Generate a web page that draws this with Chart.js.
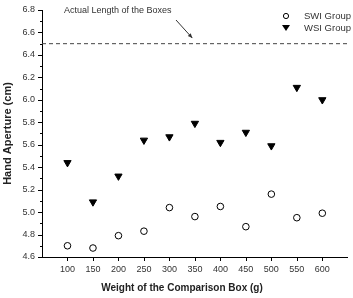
<!DOCTYPE html>
<html>
<head>
<meta charset="utf-8">
<script src="https://cdn.jsdelivr.net/npm/chart.js@4/dist/chart.umd.min.js"></script>
<style>
  html, body { margin: 0; padding: 0; background: #fff; }
  #wrap { width: 353px; height: 298px; }
</style>
</head>
<body>
<div id="wrap"><canvas id="c" width="353" height="298"></canvas></div>
<script>
// Data
const weights = [100, 150, 200, 250, 300, 350, 400, 450, 500, 550, 600];
const swiGroup = [4.70, 4.68, 4.79, 4.83, 5.04, 4.96, 5.05, 4.87, 5.16, 4.95, 4.99];
const wsiGroup = [5.44, 5.09, 5.32, 5.64, 5.67, 5.79, 5.62, 5.71, 5.59, 6.11, 6.00];
const actualLength = 6.5;
const xRange = [50, 650];
const yRange = [4.6, 6.8];

const FONT = "'Liberation Sans', Arial, Helvetica, sans-serif";

// minor/major ticks, x title, reference annotation and legend
const extras = {
  id: 'extras',
  afterDraw(chart) {
    const ctx = chart.ctx;
    const xs = chart.scales.x, ys = chart.scales.y;
    const area = chart.chartArea;
    ctx.save();
    ctx.strokeStyle = '#000';
    ctx.lineWidth = 1;
    ctx.beginPath();
    ys.ticks.forEach(t => {
      const y = Math.round(ys.getPixelForValue(t.value)) + 0.5;
      const major = Math.round(t.value * 10) % 2 === 0;
      ctx.moveTo(area.left, y);
      ctx.lineTo(area.left - (major ? 4 : 2), y);
    });
    xs.ticks.forEach(t => {
      if (t.value <= xRange[0] || t.value >= xRange[1]) return;
      const x = Math.round(xs.getPixelForValue(t.value)) + 0.5;
      ctx.moveTo(x, area.bottom);
      ctx.lineTo(x, area.bottom + 4);
    });
    ctx.stroke();

    // x axis title (sits left of the plot centre in the reference)
    ctx.fillStyle = '#222';
    ctx.font = 'bold 10px ' + FONT;
    ctx.textAlign = 'center';
    ctx.textBaseline = 'middle';
    ctx.fillText('Weight of the Comparison Box (g)', 182, 288);

    // annotation text + arrow
    ctx.fillStyle = '#333';
    ctx.font = '9px ' + FONT;
    ctx.textAlign = 'left';
    ctx.fillText('Actual Length of the Boxes', 64, 11);
    const x0 = 176, y0 = 20;
    const ax = xs.getPixelForValue(345), ay = ys.getPixelForValue(6.55);
    ctx.strokeStyle = '#333';
    ctx.beginPath();
    ctx.moveTo(x0, y0);
    ctx.lineTo(ax, ay);
    ctx.stroke();
    const ang = Math.atan2(ay - y0, ax - x0);
    ctx.fillStyle = '#333';
    ctx.beginPath();
    ctx.moveTo(ax, ay);
    ctx.lineTo(ax - 5 * Math.cos(ang - 0.4), ay - 5 * Math.sin(ang - 0.4));
    ctx.lineTo(ax - 5 * Math.cos(ang + 0.4), ay - 5 * Math.sin(ang + 0.4));
    ctx.closePath();
    ctx.fill();

    // legend
    ctx.strokeStyle = '#000';
    ctx.beginPath();
    ctx.arc(286, 16, 2.6, 0, Math.PI * 2);
    ctx.stroke();
    ctx.fillStyle = '#000';
    ctx.beginPath();
    ctx.moveTo(282, 25);
    ctx.lineTo(290, 25);
    ctx.lineTo(286, 31);
    ctx.closePath();
    ctx.fill();
    ctx.fillStyle = '#333';
    ctx.font = '9.5px ' + FONT;
    ctx.fillText('SWI Group', 304, 16);
    ctx.fillText('WSI Group', 304, 28);
    ctx.restore();
  }
};

new Chart(document.getElementById('c'), {
  type: 'scatter',
  data: {
    datasets: [
      {
        label: 'Actual Length of the Boxes',
        type: 'line',
        data: xRange.map(x => ({ x, y: actualLength })),
        borderColor: '#444',
        borderWidth: 1,
        borderDash: [4, 3],
        pointRadius: 0,
      },
      {
        label: 'SWI Group',
        data: weights.map((w, i) => ({ x: w, y: swiGroup[i] })),
        pointStyle: 'circle',
        pointRadius: 3.3,
        backgroundColor: '#fff',
        borderColor: '#000',
        borderWidth: 1,
      },
      {
        label: 'WSI Group',
        data: weights.map((w, i) => ({ x: w, y: wsiGroup[i] })),
        pointStyle: 'triangle',
        rotation: 180,
        pointRadius: 4.2,
        backgroundColor: '#000',
        borderColor: '#000',
        borderWidth: 1,
      },
    ],
  },
  options: {
    responsive: false,
    animation: false,
    layout: { padding: { top: 10, right: 3, left: 0, bottom: 0 } },
    scales: {
      x: {
        type: 'linear',
        min: xRange[0],
        max: xRange[1],
        afterFit: (s) => { s.height = 41; },
        ticks: {
          stepSize: 50,
          padding: 3,
          color: '#333',
          font: { family: FONT, size: 9 },
          maxRotation: 0,
          callback: (v) => (v <= xRange[0] || v >= xRange[1]) ? '' : v,
        },
        grid: { drawOnChartArea: false, color: 'transparent', tickLength: 4 },
        border: { display: true, color: '#000', width: 1 },
      },
      y: {
        min: yRange[0],
        max: yRange[1],
        afterFit: (s) => { s.width = 42; },
        ticks: {
          stepSize: 0.1,
          padding: 3,
          color: '#333',
          font: { family: FONT, size: 9 },
          autoSkip: false,
          callback: (v) => Math.round(v * 10) % 2 === 0 ? v.toFixed(1) : '',
        },
        grid: { drawOnChartArea: false, color: 'transparent', tickLength: 4 },
        border: { display: true, color: '#000', width: 1 },
        title: {
          display: true,
          text: 'Hand Aperture (cm)',
          color: '#222',
          font: { family: FONT, size: 11, weight: 'bold' },
          padding: { top: 1, bottom: 0 },
        },
      },
    },
    plugins: {
      legend: { display: false },
      tooltip: { enabled: false },
    },
  },
  plugins: [extras],
});
</script>
</body>
</html>
